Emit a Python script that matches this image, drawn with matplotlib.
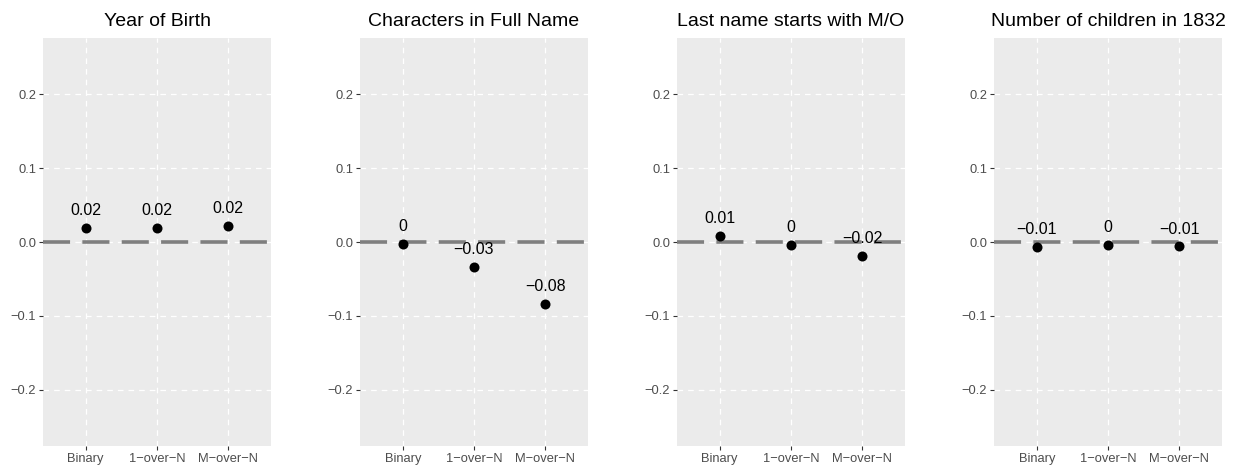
import matplotlib
matplotlib.use("Agg")
import matplotlib.pyplot as plt

plt.rcParams['font.family'] = ['Liberation Sans', 'DejaVu Sans']

# data
methods = ['Binary', '1\u2212over\u2212N', 'M\u2212over\u2212N']
titles = ['Year of Birth', 'Characters in Full Name',
          'Last name starts with M/O', 'Number of children in 1832']
year_birth = [0.0185, 0.019, 0.022]
name_chars = [-0.0027, -0.034, -0.084]
last_name_mo = [0.008, -0.004, -0.019]
children_1832 = [-0.0072, -0.0045, -0.006]
panels = [year_birth, name_chars, last_name_mo, children_1832]
yticks = [-0.2, -0.1, 0.0, 0.1, 0.2]

W, H = 1238, 469
fig = plt.figure(figsize=(W / 100, H / 100), dpi=100)

lefts = [43, 360, 677, 994]
pw, top, bottom = 228, 38, 446

for i, vals in enumerate(panels):
    ax = fig.add_axes([lefts[i] / W, (H - bottom) / H, pw / W, (bottom - top) / H])
    ax.set_facecolor('#EBEBEB')
    for s in ax.spines.values():
        s.set_visible(False)

    xs = list(range(1, len(methods) + 1))
    ax.set_xlim(0.4, 3.6)
    ax.set_ylim(-0.276, 0.276)
    ax.set_xticks(xs)
    ax.set_xticklabels(methods)
    ax.set_yticks(yticks)
    ax.set_yticklabels(['\u22120.2', '\u22120.1', '0.0', '0.1', '0.2'])
    ax.tick_params(colors='#333333', length=3, width=0.8, labelsize=9.3,
                   labelcolor='#4D4D4D', pad=2)

    ax.grid(True, color='white', linewidth=0.9, linestyle=(0, (4.5, 4)))
    ax.set_axisbelow(True)

    ax.axhline(0, color='#7F7F7F', linewidth=2.6, dashes=(7.5, 3.4), zorder=2)
    ax.scatter(xs, vals, s=52, color='black', zorder=3, linewidths=0)

    for x, v in zip(xs, vals):
        lab = round(v, 2)
        if abs(lab) < 0.005:
            txt = '0'
        else:
            txt = f'{lab:.2f}'.replace('-', '\u2212')
        ax.annotate(txt, (x, v), xytext=(0, 12.5), textcoords='offset points',
                    ha='center', va='center', fontsize=11.5, color='black', zorder=4)

    ax.set_title(titles[i], fontsize=14, pad=9)

fig.savefig('out.png', dpi=100)
